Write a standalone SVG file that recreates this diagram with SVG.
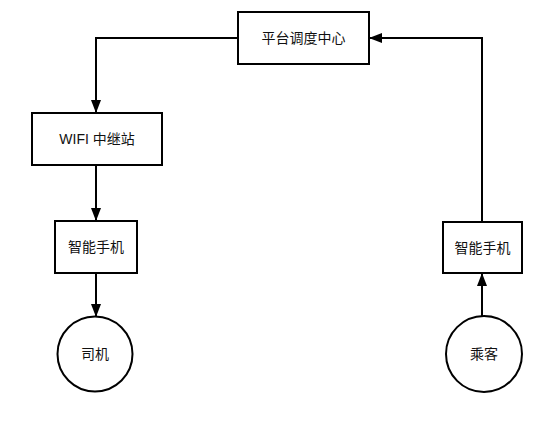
<svg xmlns="http://www.w3.org/2000/svg" width="550" height="425" viewBox="0 0 550 425">
<style>
.n{fill:#fff;stroke:#000;stroke-width:2}
.t{font-family:"Liberation Sans","Noto Sans CJK SC",sans-serif;font-size:14px;fill:#111;text-anchor:middle;dominant-baseline:central}
.c{fill:none;stroke:#000;stroke-width:2}
</style>
<defs>
<marker id="ah" viewBox="0 0 13 10" refX="13" refY="5" markerWidth="13" markerHeight="10" orient="auto" markerUnits="userSpaceOnUse">
<path d="M0,0 L13,5 L0,10 z" fill="#000"/>
</marker>
</defs>
<rect width="550" height="425" fill="#fff"/>
<g id="connectors">
<path class="c" d="M238,38 H96 V113" marker-end="url(#ah)"/>
<path class="c" d="M96,165 V221" marker-end="url(#ah)"/>
<path class="c" d="M96,273 V317" marker-end="url(#ah)"/>
<path class="c" d="M482,316 V273" marker-end="url(#ah)"/>
<path class="c" d="M482,222 V38 H369" marker-end="url(#ah)"/>
</g>
<g id="center"><rect class="n" x="238" y="12" width="131" height="52"/><text class="t" x="303.5" y="38">平台调度中心</text></g>
<g id="wifi"><rect class="n" x="32" y="113" width="130" height="52"/><text class="t" x="97" y="139">WIFI 中继站</text></g>
<g id="phone1"><rect class="n" x="55" y="221" width="82" height="52"/><text class="t" x="96" y="247">智能手机</text></g>
<g id="phone2"><rect class="n" x="443" y="222" width="79" height="51"/><text class="t" x="482.5" y="247.5">智能手机</text></g>
<g id="driver"><circle class="n" cx="95" cy="354" r="37.5"/><text class="t" x="95" y="354">司机</text></g>
<g id="passenger"><circle class="n" cx="484" cy="354" r="38"/><text class="t" x="484" y="354">乘客</text></g>
</svg>
